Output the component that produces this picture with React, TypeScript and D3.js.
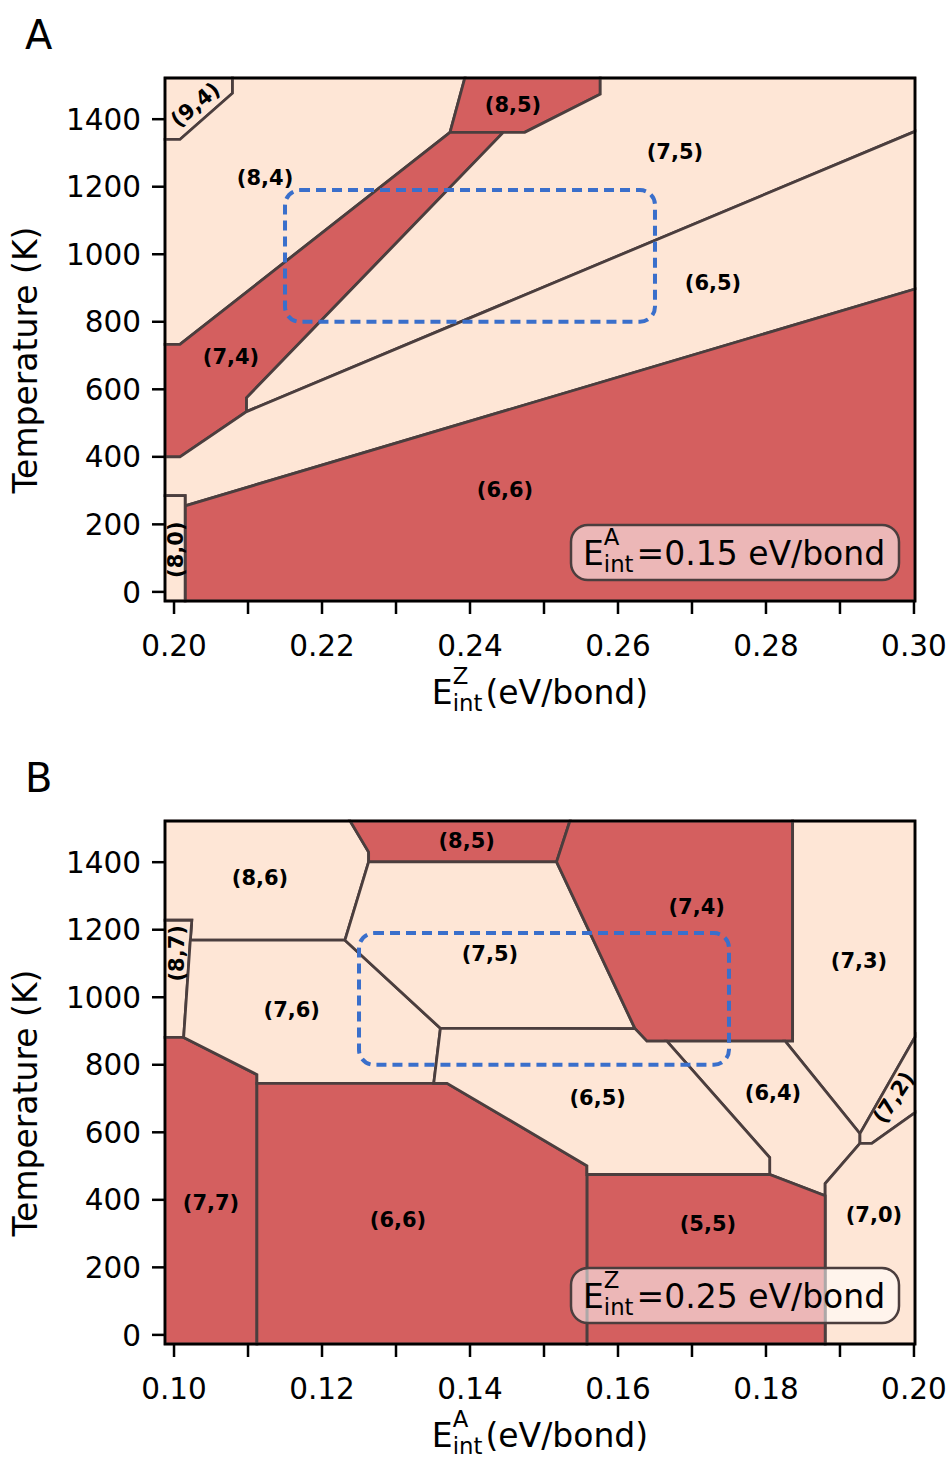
import React from "react";
import * as d3 from "d3";

const RED = "#d45f5f";
const LIGHT = "#fee6d6";
const EDGE = "#4b3e3e";
const BLUE = "#3a6fcb";
const FONT = "DejaVu Sans";

// axis limits (E_int in eV/bond, T in K)
const xLimA = [0.19878, 0.30014];
const xLimB = [0.09878, 0.20014];
const tLim = [-27, 1522];
const tTicks = [0, 200, 400, 600, 800, 1000, 1200, 1400];

const [AL, AR] = xLimA;
const [BL, BR] = xLimB;
const [T0, T1] = tLim;

// ---- panel A: phase regions (E^Z_int, T) ----
const a94 = [[AL, T1], [0.2079, T1], [0.2079, 1477], [0.2008, 1340], [AL, 1340]];
const a84 = [[AL, 1340], [0.2008, 1340], [0.2079, 1477], [0.2079, T1], [0.2393, T1], [0.2373, 1361], [0.2008, 733], [AL, 733]];
const a85 = [[0.2393, T1], [0.2576, T1], [0.2576, 1474], [0.2474, 1361], [0.2373, 1361]];
const a74 = [[AL, 733], [0.2008, 733], [0.2373, 1361], [0.2445, 1361], [0.2098, 575], [0.2098, 534], [0.2008, 400], [AL, 400]];
const a75 = [[0.2576, T1], [AR, T1], [AR, 1364], [0.2098, 534], [0.2098, 575], [0.2445, 1361], [0.2474, 1361], [0.2576, 1474]];
const a65 = [[0.2098, 534], [AR, 1364], [AR, 897], [0.2015, 255], [0.2015, 285], [AL, 285], [AL, 400], [0.2008, 400]];
const a66 = [[0.2015, T0], [AR, T0], [AR, 897], [0.2015, 255]];
const a80 = [[AL, T0], [0.2015, T0], [0.2015, 285], [AL, 285]];

const regionsA = [
  { pts: a94, red: false }, { pts: a84, red: false }, { pts: a85, red: true },
  { pts: a74, red: true }, { pts: a75, red: false }, { pts: a65, red: false },
  { pts: a66, red: true }, { pts: a80, red: false },
];

const labelsA = [
  { text: "(9,4)", x: 0.20284, t: 1444, rot: -40 },
  { text: "(8,4)", x: 0.2123, t: 1228, rot: 0 },
  { text: "(8,5)", x: 0.24581, t: 1444, rot: 0 },
  { text: "(7,5)", x: 0.2677, t: 1305, rot: 0 },
  { text: "(6,5)", x: 0.27284, t: 917, rot: 0 },
  { text: "(7,4)", x: 0.2077, t: 697, rot: 0 },
  { text: "(6,6)", x: 0.24473, t: 303, rot: 0 },
  { text: "(8,0)", x: 0.20014, t: 125, rot: -90 },
];

// ---- panel B: phase regions (E^A_int, T) ----
const b86 = [[BL, T1], [0.1238, T1], [0.1263, 1430], [0.1263, 1401], [0.1231, 1169], [0.1022, 1169], [0.1024, 1228], [BL, 1228]];
const b87 = [[BL, 1228], [0.1024, 1228], [0.1013, 881], [BL, 881]];
const b77 = [[BL, 881], [0.1013, 881], [0.1112, 771], [0.1112, T0], [BL, T0]];
const b76 = [[0.1022, 1169], [0.1231, 1169], [0.136, 908], [0.1351, 745], [0.1112, 745], [0.1112, 771], [0.1013, 881]];
const b85 = [[0.1238, T1], [0.1535, T1], [0.1517, 1401], [0.1263, 1401], [0.1263, 1430]];
const b75 = [[0.1263, 1401], [0.1517, 1401], [0.1623, 907], [0.136, 908], [0.1231, 1169]];
const b74 = [[0.1535, T1], [0.1836, T1], [0.1836, 870], [0.1639, 870], [0.1623, 907], [0.1517, 1401]];
const b73 = [[0.1836, T1], [BR, T1], [BR, 882], [0.1927, 596], [0.1826, 870], [0.1836, 870]];
const b64 = [[0.1666, 870], [0.1826, 870], [0.1927, 596], [0.1927, 567], [0.188, 448], [0.188, 412], [0.1805, 475], [0.1805, 525]];
const b72 = [[0.1927, 596], [BR, 882], [BR, 658], [0.1943, 567], [0.1927, 567]];
const b70 = [[0.188, T0], [BR, T0], [BR, 658], [0.1943, 567], [0.1927, 567], [0.188, 448]];
const b55 = [[0.1558, T0], [0.188, T0], [0.188, 412], [0.1805, 475], [0.1558, 475]];
const b66 = [[0.1112, T0], [0.1558, T0], [0.1558, 501], [0.1369, 745], [0.1112, 745]];
const b65 = [[0.136, 908], [0.1623, 907], [0.1639, 870], [0.1666, 870], [0.1805, 525], [0.1805, 475], [0.1558, 475], [0.1558, 501], [0.1369, 745], [0.1351, 745]];

const regionsB = [
  { pts: b86, red: false }, { pts: b87, red: false }, { pts: b77, red: true },
  { pts: b76, red: false }, { pts: b85, red: true }, { pts: b75, red: false },
  { pts: b74, red: true }, { pts: b73, red: false }, { pts: b64, red: false },
  { pts: b72, red: false }, { pts: b70, red: false }, { pts: b55, red: true },
  { pts: b66, red: true }, { pts: b65, red: false },
];

const labelsB = [
  { text: "(8,5)", x: 0.13955, t: 1465, rot: 0 },
  { text: "(8,6)", x: 0.11162, t: 1355, rot: 0 },
  { text: "(8,7)", x: 0.10036, t: 1130, rot: -90 },
  { text: "(7,5)", x: 0.1427, t: 1130, rot: 0 },
  { text: "(7,4)", x: 0.17064, t: 1269, rot: 0 },
  { text: "(7,3)", x: 0.19257, t: 1109, rot: 0 },
  { text: "(7,6)", x: 0.11591, t: 964, rot: 0 },
  { text: "(6,5)", x: 0.15726, t: 703, rot: 0 },
  { text: "(6,4)", x: 0.18095, t: 719, rot: 0 },
  { text: "(7,2)", x: 0.1972, t: 704, rot: -57 },
  { text: "(7,7)", x: 0.105, t: 392, rot: 0 },
  { text: "(6,6)", x: 0.13027, t: 341, rot: 0 },
  { text: "(5,5)", x: 0.17216, t: 329, rot: 0 },
  { text: "(7,0)", x: 0.19459, t: 356, rot: 0 },
];

// highlighted windows [x0, x1, t0, t1]
const boxA = [0.215, 0.265, 800, 1190];
const boxB = [0.125, 0.175, 800, 1190];

const MathE = ({ x, y, size, sup, rest, anchor = "start" }) => {
  const ss = size * 0.69;
  return (
    <text x={x} y={y} fontSize={size} fontFamily={FONT} textAnchor={anchor} fill="#000">
      E
      <tspan fontSize={ss} dy={-0.62 * size}>{sup}</tspan>
      <tspan fontSize={ss} dx={-0.685 * ss} dy={0.83 * size}>int</tspan>
      <tspan fontSize={size} dx={3} dy={-0.21 * size}>{rest}</tspan>
    </text>
  );
};

const Panel = ({ top, xLim, regions, labels, box, letter, axisSup, noteSup, noteText }) => {
  const left = 165, width = 750, height = 523;
  const bottom = top + height, right = left + width;
  const x = d3.scaleLinear().domain(xLim).range([left, right]);
  const y = d3.scaleLinear().domain(tLim).range([bottom, top]);
  const line = d3.line().x((d) => x(d[0])).y((d) => y(d[1]));
  const xTicks = x.ticks(10);
  const fmt = d3.format(".2f");
  const tick = 13;

  return (
    <g>
      <text x={25} y={top - 29} fontSize={40} fontFamily={FONT}>{letter}</text>
      {regions.map((r, i) => (
        <path key={i} d={line(r.pts) + "Z"} fill={r.red ? RED : LIGHT}
          stroke={EDGE} strokeWidth={2.8} strokeLinejoin="miter" />
      ))}
      <rect x={x(box[0])} y={y(box[3])} width={x(box[1]) - x(box[0])}
        height={y(box[2]) - y(box[3])} rx={15} fill="none" stroke={BLUE}
        strokeWidth={4} strokeDasharray="10 6" />
      {labels.map((l, i) => (
        <text key={i} transform={`translate(${x(l.x)},${y(l.t)}) rotate(${l.rot})`}
          textAnchor="middle" dy="0.36em" fontSize={21} fontWeight="bold" fontFamily={FONT}>
          {l.text}
        </text>
      ))}
      <rect x={right - 16 - 328} y={bottom - 21 - 55} width={328} height={55} rx={17}
        fill="#fff" fillOpacity={0.55} stroke={EDGE} strokeWidth={2.5} />
      <MathE x={right - 16 - 328 + 12} y={bottom - 21 - 15} size={33} sup={noteSup} rest={noteText} />
      <rect x={left} y={top} width={width} height={height} fill="none" stroke="#000" strokeWidth={2.5} />
      {xTicks.map((v, i) => (
        <g key={i}>
          <line x1={x(v)} x2={x(v)} y1={bottom} y2={bottom + tick} stroke="#000" strokeWidth={2.5} />
          {Math.round(v * 100) % 2 === 0 && (
            <text x={x(v)} y={bottom + 55} textAnchor="middle" fontSize={29.5} fontFamily={FONT}>{fmt(v)}</text>
          )}
        </g>
      ))}
      {tTicks.map((v, i) => (
        <g key={i}>
          <line x1={left} x2={left - tick} y1={y(v)} y2={y(v)} stroke="#000" strokeWidth={2.5} />
          <text x={left - tick - 11} y={y(v)} dy="0.36em" textAnchor="end" fontSize={29.5} fontFamily={FONT}>{v}</text>
        </g>
      ))}
      <MathE x={(left + right) / 2} y={bottom + 103} size={33} sup={axisSup} rest="(eV/bond)" anchor="middle" />
      <text transform={`translate(37,${top + 282}) rotate(-90)`} textAnchor="middle"
        fontSize={33} fontFamily={FONT}>Temperature (K)</text>
    </g>
  );
};

export default function App() {
  return (
    <svg width={949} height={1459} style={{ position: "absolute", left: 0, top: 0, background: "#fff" }}>
      <Panel top={78} xLim={xLimA} regions={regionsA} labels={labelsA} box={boxA}
        letter="A" axisSup="Z" noteSup="A" noteText="=0.15 eV/bond" />
      <Panel top={821} xLim={xLimB} regions={regionsB} labels={labelsB} box={boxB}
        letter="B" axisSup="A" noteSup="Z" noteText="=0.25 eV/bond" />
    </svg>
  );
}
